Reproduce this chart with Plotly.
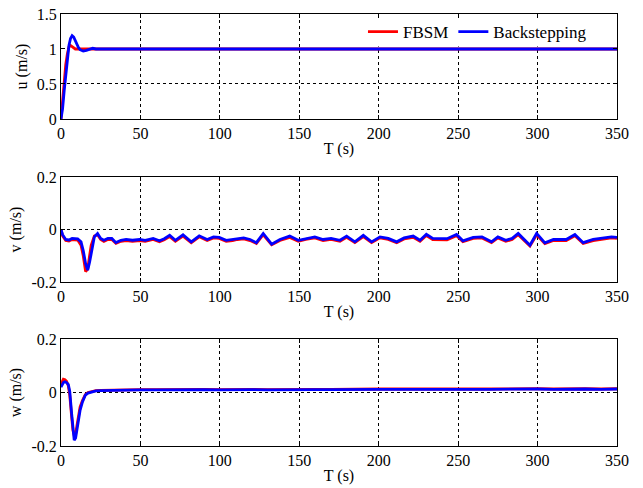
import plotly.graph_objects as go
from plotly.subplots import make_subplots

# ---------------- data ----------------
tail_t = [25, 30, 40, 50, 60, 70, 80, 90, 100, 110, 120, 130, 140, 150, 160, 170, 180,
          190, 200, 210, 220, 230, 240, 250, 260, 270, 280, 290, 300, 310, 320, 330, 340, 350]

t_u = [0, 1, 2, 3, 4, 5, 6, 7, 8, 9, 10, 11, 12, 14, 16, 18, 20, 22] + tail_t
u_fbsm_head = [0, 0.3, 0.55, 0.78, 0.93, 1.03, 1.05, 1.03, 1.01, 1.0, 1.0, 1.0, 1.0, 1.0, 1.0, 1.0, 1.0, 1.0]
u_fbsm_tail = [1.0, 1.0, 0.998, 1.002, 1.0, 0.998, 1.003, 1.0, 1.0, 0.998,
               1.002, 1.0, 1.0, 1.003, 0.998, 1.0, 1.002, 1.0, 0.998, 1.0,
               1.003, 1.0, 0.998, 1.002, 1.0, 1.0, 0.998, 1.0, 1.002, 1.0,
               0.999, 1.0, 1.001, 1.0]
u_back_head = [0, 0.15, 0.4, 0.65, 0.88, 1.05, 1.15, 1.19, 1.17, 1.12, 1.06, 1.02, 0.99, 0.97, 0.98, 1.0, 1.01, 1.0]
u_back_tail = [1.0, 1.003, 0.997, 1.002, 1.0, 0.997, 1.004, 1.0, 1.002, 0.997,
               1.003, 1.0, 0.998, 1.004, 0.997, 1.0, 1.003, 1.0, 0.997, 1.002,
               1.004, 1.0, 0.997, 1.003, 1.0, 1.002, 0.997, 1.0, 1.003, 1.0,
               0.998, 1.0, 1.002, 1.0]
u_fbsm = u_fbsm_head + u_fbsm_tail
u_back = u_back_head + u_back_tail

t_v = [0, 1, 3, 5, 7, 10.5, 12.6, 14, 15.5, 16.8, 18, 19, 21, 23, 25, 27, 29.5, 32, 34.6, 37.7,
       41, 45, 49.5, 53, 58, 62, 65, 68.4, 72, 76.8, 82, 87, 92, 96, 99.6, 104, 108, 111, 115, 119,
       123, 127.3, 132.6, 137.8, 144, 149.4, 154, 159.8, 165, 170, 175.6, 179.8, 185, 190.3, 195.5,
       200.8, 206, 211.3, 216, 221.7, 226, 230, 234, 238.5, 243, 249, 253, 259.5, 265, 271, 275, 280,
       284, 287.8, 295.2, 299.4, 304.6, 310, 318, 323.5, 328.7, 335, 341, 346.5, 350]
v_back = [0, -0.02, -0.038, -0.04, -0.034, -0.036, -0.047, -0.08, -0.13, -0.155, -0.125, -0.09, -0.028,
          -0.015, -0.034, -0.041, -0.034, -0.034, -0.05, -0.041, -0.038, -0.041, -0.038, -0.041, -0.034,
          -0.043, -0.035, -0.022, -0.041, -0.02, -0.047, -0.024, -0.038, -0.028, -0.03, -0.041, -0.038,
          -0.034, -0.032, -0.038, -0.05, -0.015, -0.056, -0.038, -0.025, -0.041, -0.034, -0.028, -0.038,
          -0.034, -0.041, -0.025, -0.047, -0.022, -0.047, -0.028, -0.034, -0.047, -0.032, -0.025, -0.041,
          -0.018, -0.034, -0.034, -0.035, -0.019, -0.043, -0.03, -0.028, -0.047, -0.028, -0.041, -0.034,
          -0.015, -0.06, -0.015, -0.051, -0.038, -0.038, -0.019, -0.05, -0.038, -0.034, -0.028, -0.03]
v_fbsm = [0, -0.024, -0.042, -0.044, -0.038, -0.04, -0.06, -0.1, -0.16, -0.15, -0.1, -0.06, -0.025,
          -0.02, -0.038, -0.045, -0.038, -0.038, -0.053, -0.045, -0.042, -0.045, -0.042, -0.045, -0.038,
          -0.047, -0.039, -0.027, -0.045, -0.025, -0.05, -0.028, -0.042, -0.032, -0.034, -0.045, -0.042,
          -0.038, -0.036, -0.042, -0.053, -0.02, -0.058, -0.042, -0.03, -0.045, -0.038, -0.032, -0.042,
          -0.038, -0.045, -0.03, -0.05, -0.027, -0.05, -0.032, -0.038, -0.05, -0.036, -0.03, -0.045,
          -0.023, -0.038, -0.038, -0.039, -0.024, -0.046, -0.034, -0.032, -0.05, -0.032, -0.045, -0.038,
          -0.02, -0.063, -0.02, -0.054, -0.042, -0.042, -0.024, -0.053, -0.042, -0.038, -0.032, -0.034]

t_w = [0, 1, 1.5, 2.5, 3.5, 4.6, 5.5, 6.7, 7.5, 8.3, 9.2, 10, 11, 12, 13.5, 15.3, 17, 19.5, 22] + tail_t
w_back = [0.02, 0.033, 0.037, 0.04, 0.037, 0.03, 0.005, -0.079, -0.14, -0.178, -0.17, -0.142, -0.1,
          -0.067, -0.035, -0.01, -0.002, 0.003, 0.006,
          0.007, 0.008, 0.009, 0.01, 0.01, 0.011, 0.01, 0.011, 0.01, 0.011, 0.011, 0.01, 0.011, 0.012,
          0.011, 0.011, 0.012, 0.011, 0.012, 0.012, 0.011, 0.012, 0.012, 0.013, 0.012, 0.012, 0.013,
          0.012, 0.013, 0.012, 0.013, 0.013, 0.012, 0.013]
w_fbsm = [0.03, 0.045, 0.05, 0.048, 0.042, 0.025, -0.01, -0.09, -0.14, -0.16, -0.155, -0.125, -0.09,
          -0.055, -0.03, -0.008, 0.0, 0.004, 0.007,
          0.008, 0.009, 0.01, 0.011, 0.011, 0.012, 0.011, 0.012, 0.011, 0.012, 0.012, 0.011, 0.012, 0.013,
          0.012, 0.012, 0.013, 0.012, 0.013, 0.013, 0.012, 0.013, 0.013, 0.014, 0.013, 0.013, 0.014,
          0.013, 0.014, 0.013, 0.014, 0.014, 0.013, 0.014]

x_ticks = [0, 50, 100, 150, 200, 250, 300, 350]
u_ticks = [0, 0.5, 1, 1.5]
vw_ticks = [-0.2, 0, 0.2]
u_tick_text = ["0", "0.5", "1", "1.5"]
vw_tick_text = ["-0.2", "0", "0.2"]

# ---------------- figure ----------------
RED = "#ff0000"
BLUE = "#0000ff"
FONT = "Liberation Serif"

fig = make_subplots(rows=3, cols=1)

series = [(t_u, u_fbsm, u_back), (t_v, v_fbsm, v_back), (t_w, w_fbsm, w_back)]
for i, (t, a, b) in enumerate(series, start=1):
    fig.add_trace(go.Scatter(x=t, y=a, mode="lines", name="FBSM",
                             line=dict(color=RED, width=2.8), showlegend=(i == 1)), row=i, col=1)
    fig.add_trace(go.Scatter(x=t, y=b, mode="lines", name="Backstepping",
                             line=dict(color=BLUE, width=2.8), showlegend=(i == 1)), row=i, col=1)

domains = [[0.757, 1.0], [0.3796, 0.6227], [0.0, 0.2477]]
ranges = [[0, 1.5], [-0.2, 0.2], [-0.2, 0.2]]
ticks = [(u_ticks, u_tick_text), (vw_ticks, vw_tick_text), (vw_ticks, vw_tick_text)]
titles = ["u (m/s)", "v (m/s)", "w (m/s)"]

axis_common = dict(showline=True, linecolor="black", linewidth=1, mirror="allticks",
                   ticks="inside", ticklen=4, tickcolor="black", automargin=False,
                   showgrid=True, gridcolor="black", griddash="dot", gridwidth=1,
                   zeroline=False, tickfont=dict(family=FONT, size=16, color="black"))

for i in range(3):
    fig.update_xaxes(range=[0, 350], tickvals=x_ticks, **axis_common,
                     title=dict(text="T (s)", font=dict(family=FONT, size=16, color="black"), standoff=1),
                     row=i + 1, col=1)
    fig.update_yaxes(domain=domains[i], range=ranges[i], tickvals=ticks[i][0], ticktext=ticks[i][1],
                     **axis_common,
                     title=dict(text=titles[i], font=dict(family=FONT, size=16, color="black"), standoff=5),
                     row=i + 1, col=1)

# white legend backdrop: above the grid, beneath the data lines
fig.add_shape(type="rect", xref="x", yref="y", x0=168, x1=349, y0=1.035, y1=1.49,
              fillcolor="white", line=dict(width=0), layer="between")

fig.update_layout(
    width=643, height=488,
    margin=dict(l=61, r=26, t=14, b=42),
    paper_bgcolor="white", plot_bgcolor="white",
    font=dict(family=FONT, size=16, color="black"),
    legend=dict(orientation="h", x=0.955, xanchor="right", y=0.958, yanchor="middle",
                bgcolor="rgba(0,0,0,0)", borderwidth=0, font=dict(family=FONT, size=17, color="black"),
                itemwidth=30, tracegroupgap=0),
)

fig.write_html("out.html")
